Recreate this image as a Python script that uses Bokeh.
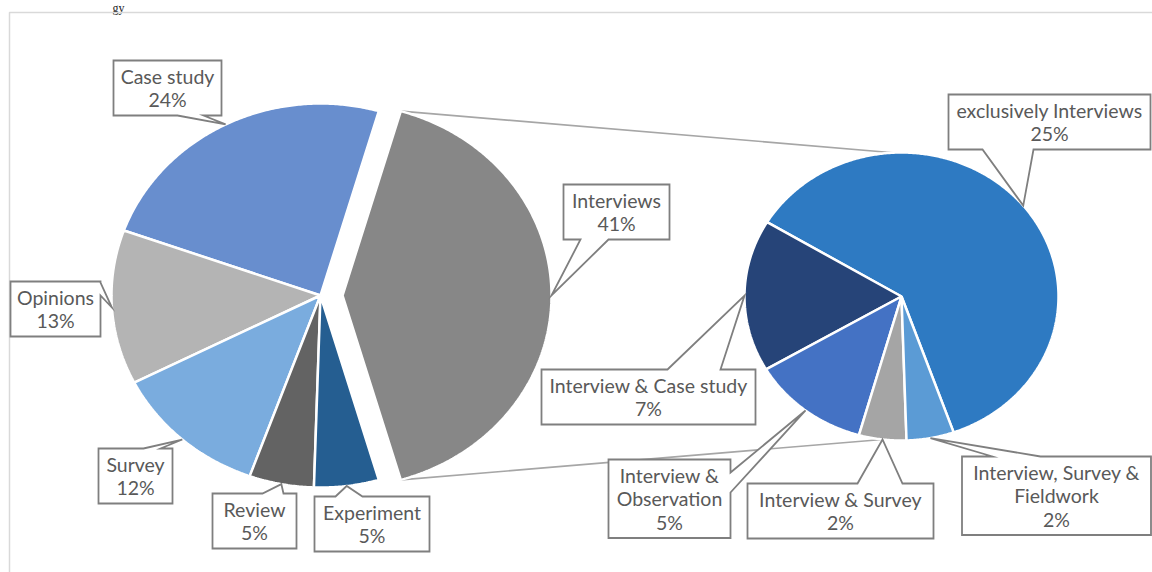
import numpy as np
from bokeh.plotting import figure
from bokeh.models import Range1d
from bokeh.core.properties import value
from bokeh.embed import file_html
from bokeh.resources import INLINE

# ---------------- data ----------------
main_categories = ["Interviews", "Case study", "Opinions", "Survey", "Review", "Experiment"]
main_values = [41, 24, 13, 12, 5, 5]
main_colors = ["#878787", "#688ece", "#b4b4b4", "#7aacde", "#636363", "#255e91"]

sub_categories = ["exclusively Interviews", "Interview & Case study", "Interview & Observation",
                  "Interview & Survey", "Interview, Survey & Fieldwork"]
sub_values = [25, 7, 5, 2, 2]
sub_colors = ["#2e7ac2", "#264478", "#4472c4", "#a5a5a5", "#5b9bd5"]

# ---------------- layout ----------------
W, H = 1152, 572
MAIN_C = (320.0, 295.0)
MAIN_R = (209.0, 192.0)
EXPLODE = 22.0
SUB_C = (901.0, 296.0)
SUB_R = (157.0, 144.0)
SUB_START = -70.6
LINE_TOP_ANGLE, LINE_BOTTOM_ANGLE = 93.0, 263.0

# label callouts: centre x, top, width, pointer side, pointer base start, end
callout_layout = {
    "Case study": (167, 60, 108, "bottom", 177, 203),
    "Opinions": (55, 281, 90, "right", 282, 295),
    "Survey": (135, 448, 74, "top", 143, 160),
    "Review": (254, 493, 84, "top", 262, 283),
    "Experiment": (371.5, 496, 115, "top", 335, 362),
    "Interviews": (616, 184, 106, "bottom", 580, 608),
    "exclusively Interviews": (1049, 94, 202, "bottom", 982, 1033),
    "Interview & Case study": (648, 369, 214, "top", 667, 720),
    "Interview & Observation": (669, 459, 122, "right", 472, 492),
    "Interview & Survey": (840, 483, 186, "top", 857, 902),
    "Interview, Survey & Fieldwork": (1056, 456, 189, "top", 992, 1040),
}
label_wrap = {
    "Interview & Observation": ["Interview &", "Observation"],
    "Interview, Survey & Fieldwork": ["Interview, Survey &", "Fieldwork"],
}

FONT = value("Lato")
FONT_SIZE = "19.5px"
TEXT_COLOR = "#595959"
FIRST_LINE = 15.5
LINE_STEP = 23.5

p = figure(width=W, height=H, x_range=Range1d(0, W), y_range=Range1d(H, 0),
           x_axis_type=None, y_axis_type=None, toolbar_location=None,
           output_backend="svg", min_border=0, outline_line_color=None,
           background_fill_color="white", border_fill_color="white")
p.grid.visible = False

# fragment of the page heading above the chart
p.text(x=[112], y=[0], text=["gy"], text_font=value("Liberation Serif"),
       text_font_size="12px", text_color="#222222", text_baseline="top")

# chart frame
p.line(x=[9, 9, W + 5], y=[H + 5, 12, 12], line_color="#d9d9d9", line_width=1.5)


def ell(c, r, ang):
    t = np.radians(ang)
    return c[0] + r[0] * np.cos(t), c[1] - r[1] * np.sin(t)


def wedge(c, r, a0, a1):
    t = np.linspace(a0, a1, max(8, int(abs(a1 - a0) * 2)))
    x, y = ell(c, r, t)
    return [c[0]] + list(x) + [c[0]], [c[1]] + list(y) + [c[1]]


# main pie angles
main_total = sum(main_values)
main_start = -main_values[0] / main_total * 180.0
m_xs, m_ys, m_tips = [], [], []
a = main_start
for i, v in enumerate(main_values):
    span = v / main_total * 360.0
    c = MAIN_C
    if i == 0:
        c = (MAIN_C[0] + EXPLODE, MAIN_C[1])
    xs, ys = wedge(c, MAIN_R, a, a + span)
    m_xs.append(xs)
    m_ys.append(ys)
    m_tips.append(ell(c, MAIN_R, a + span / 2))
    if i == 0:
        top_pt = ell(c, MAIN_R, a + span)
        bot_pt = ell(c, MAIN_R, a)
    a += span

# sub pie angles
sub_total = sum(sub_values)
s_xs, s_ys, s_tips = [], [], []
a = SUB_START
for v in sub_values:
    span = v / sub_total * 360.0
    xs, ys = wedge(SUB_C, SUB_R, a, a + span)
    s_xs.append(xs)
    s_ys.append(ys)
    s_tips.append(ell(SUB_C, SUB_R, a + span / 2))
    a += span

# series lines
t_end = ell(SUB_C, SUB_R, LINE_TOP_ANGLE)
b_end = ell(SUB_C, SUB_R, LINE_BOTTOM_ANGLE)
p.multi_line(xs=[[top_pt[0], t_end[0]], [bot_pt[0], b_end[0]]],
             ys=[[top_pt[1], t_end[1]], [bot_pt[1], b_end[1]]],
             line_color="#a6a6a6", line_width=1.6)

p.patches(xs=m_xs, ys=m_ys, fill_color=main_colors, line_color="white", line_width=2.5)
p.patches(xs=s_xs, ys=s_ys, fill_color=sub_colors, line_color="white", line_width=2.5)

# callouts
labels = [(n, f"{round(v / main_total * 100)}%", t) for n, v, t in zip(main_categories, main_values, m_tips)]
labels += [(n, f"{v}%", t) for n, v, t in zip(sub_categories, sub_values, s_tips)]

c_xs, c_ys, tx, ty, tt = [], [], [], [], []
for name, pct, tip in labels:
    cx, top, w, side, b0, b1 = callout_layout[name]
    lines = label_wrap.get(name, [name]) + [pct]
    h = 31.5 + LINE_STEP * (len(lines) - 1)
    L, R, T, B = cx - w / 2, cx + w / 2, top, top + h
    if side == "top":
        px = [L, b0, tip[0], b1, R, R, L]
        py = [T, T, tip[1], T, T, B, B]
    elif side == "bottom":
        px = [L, R, R, b1, tip[0], b0, L]
        py = [T, T, B, B, tip[1], B, B]
    else:  # right
        px = [L, R, R, tip[0], R, R, L]
        py = [T, T, b0, tip[1], b1, B, B]
    c_xs.append(px)
    c_ys.append(py)
    for k, ln in enumerate(lines):
        tx.append(cx)
        ty.append(top + FIRST_LINE + LINE_STEP * k)
        tt.append(ln)

p.patches(xs=c_xs, ys=c_ys, fill_color="white", line_color="#7f7f7f", line_width=1.8,
          line_join="miter")
p.text(x=tx, y=ty, text=tt, text_font=FONT, text_font_size=FONT_SIZE, text_color=TEXT_COLOR,
       text_align="center", text_baseline="alphabetic")

open("out.html", "w").write(file_html(p, INLINE))
